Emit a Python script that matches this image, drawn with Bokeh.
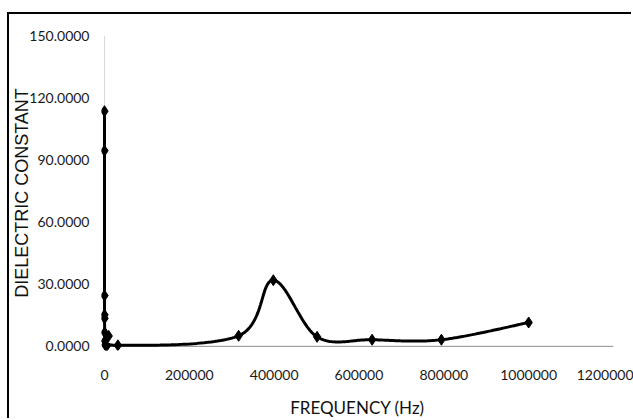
import numpy as np
from bokeh.plotting import figure
from bokeh.models import NumeralTickFormatter, FixedTicker, Range1d
from bokeh.embed import file_html
from bokeh.resources import INLINE

# Dielectric constant measured against frequency (Hz)
frequency = [10, 20, 50, 100, 200, 500, 1000, 2000, 5000, 10000,
             31623, 316228, 398107, 501187, 630957, 794328, 1000000]
dielectric = [113.5, 94.4, 24.5, 15.2, 13.5, 6.7, 2.6, 0.6, 0.1, 5.0,
              0.5, 5.1, 31.9, 4.6, 3.2, 3.2, 11.5]

x_ticks = [0, 200000, 400000, 600000, 800000, 1000000, 1200000]
y_ticks = [0, 30, 60, 90, 120, 150]
x_max = 1200000
y_max = 150

TICK_FONT = "Lato"
TITLE_FONT = "'Liberation Sans', sans-serif"


def smooth_curve(xs, ys, steps=40):
    """Cubic Bezier smoothing through every point (Catmull-Rom tangents)."""
    pts = np.column_stack([xs, ys]).astype(float)
    n = len(pts)
    out = [pts[0]]
    for i in range(n - 1):
        p0 = pts[i - 1] if i > 0 else pts[i]
        p1 = pts[i]
        p2 = pts[i + 1]
        p3 = pts[i + 2] if i + 2 < n else pts[i + 1]
        c1 = p1 + (p2 - p0) / 6.0
        c2 = p2 - (p3 - p1) / 6.0
        t = np.linspace(0, 1, steps)[1:, None]
        seg = ((1 - t) ** 3) * p1 + 3 * ((1 - t) ** 2) * t * c1 \
            + 3 * (1 - t) * t ** 2 * c2 + t ** 3 * p2
        out.extend(seg)
    out = np.array(out)
    return out[:, 0], out[:, 1]


# the chart-area border shows along the top and left edges only; an offset
# shadow draws it without changing the figure's box
p = figure(width=624, height=406, output_backend="svg", toolbar_location=None,
           x_range=Range1d(-7000, x_max), y_range=Range1d(-2, y_max),
           min_border_left=92, min_border_right=20,
           min_border_top=21, min_border_bottom=69)
p.styles = {"margin-left": "9px", "margin-top": "14px",
            "box-shadow": "-2px -2px 0px 0px black"}

p.outline_line_color = None
p.xgrid.visible = False
p.ygrid.visible = False

# axis lines drawn at the data origin
p.segment(x0=[0], y0=[0], x1=[0], y1=[y_max], line_color="#d9d9d9", line_width=1)
p.segment(x0=[0], y0=[0], x1=[x_max], y1=[0], line_color="#8c8c8c", line_width=1)

sx, sy = smooth_curve(frequency, dielectric)
p.line(sx, sy, line_color="black", line_width=3)
p.scatter(frequency, dielectric, marker="diamond", size=11,
          fill_color="black", line_color="black")

for ax in (p.xaxis[0], p.yaxis[0]):
    ax.axis_line_color = None
    ax.major_tick_line_color = None
    ax.minor_tick_line_color = None
    ax.major_tick_out = 0
    ax.major_tick_in = 0
    ax.minor_tick_out = 0
    ax.minor_tick_in = 0
    ax.major_label_text_font = TICK_FONT
    ax.major_label_text_font_size = "14px"
    ax.major_label_text_color = "#1a1a1a"
    ax.axis_label_text_font_style = "normal"
    ax.axis_label_text_color = "#111111"

p.xaxis.ticker = FixedTicker(ticks=x_ticks)
p.xaxis.formatter = NumeralTickFormatter(format="0")
p.xaxis.major_label_standoff = 19
p.xaxis.axis_label = "FREQUENCY (Hz)"
p.xaxis.axis_label_text_font = TICK_FONT
p.xaxis.axis_label_text_font_size = "17px"
p.xaxis.axis_label_standoff = 14

p.yaxis.ticker = FixedTicker(ticks=y_ticks)
p.yaxis.formatter = NumeralTickFormatter(format="0.0000")
p.yaxis.major_label_standoff = 12
p.yaxis.axis_label = "DIELECTRIC CONSTANT"
p.yaxis.axis_label_text_font = TITLE_FONT
p.yaxis.axis_label_text_font_size = "18px"
p.yaxis.axis_label_standoff = -6

open("out.html", "w").write(file_html(p, INLINE))
